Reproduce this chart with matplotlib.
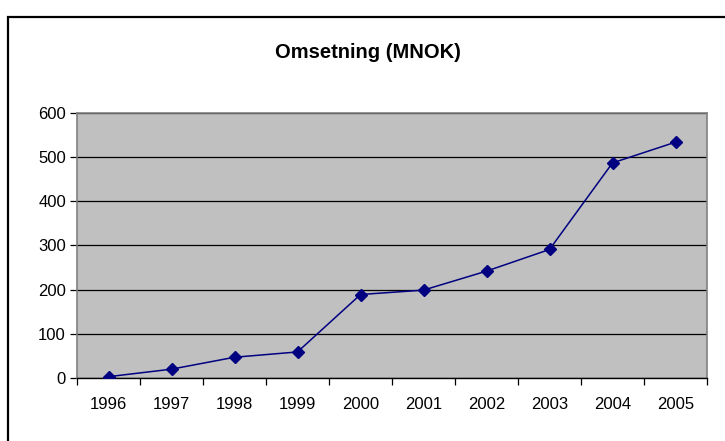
import matplotlib
matplotlib.use("Agg")
import matplotlib.pyplot as plt
from matplotlib.patches import Rectangle
import numpy as np

years = ["1996", "1997", "1998", "1999", "2000", "2001", "2002", "2003", "2004", "2005"]
values = [3, 20, 47, 59, 189, 199, 242, 291, 487, 534]
yticks = [0, 100, 200, 300, 400, 500, 600]
title = "Omsetning (MNOK)"

plt.rcParams['font.family'] = ['Liberation Sans', 'DejaVu Sans']

W, H = 725, 441
fig = plt.figure(figsize=(W / 100, H / 100), dpi=100)

# outer chart frame (clipped at right and bottom)
fig.patches.append(Rectangle((8 / W, -0.1), 1.2, 1 - 17 / H + 0.1, transform=fig.transFigure,
                             fill=False, edgecolor='black', linewidth=1.6, zorder=0))

ax = fig.add_axes([77 / W, 1 - 378 / H, (707 - 77) / W, (378 - 113) / H])
ax.set_facecolor('#C0C0C0')

x = np.arange(len(years)) + 0.5
ax.plot(x, values, color='#000080', linewidth=1.1, marker='D', markersize=6,
        markerfacecolor='#000080', markeredgecolor='#000080', zorder=3)

ax.set_xlim(0, len(years))
ax.set_ylim(0, 600)
ax.set_yticks(yticks)
ax.set_yticklabels([str(v) for v in yticks])
ax.yaxis.grid(True, color='black', linewidth=0.9)
ax.set_axisbelow(True)

ax.set_xticks(np.arange(len(years) + 1))
ax.set_xticklabels([])
ax.set_xticks(x, minor=True)
ax.set_xticklabels(years, minor=True)
ax.tick_params(axis='x', which='minor', length=0, pad=14, labelsize=12)
ax.tick_params(axis='x', which='major', length=5, width=0.9, direction='out', color='black')
ax.tick_params(axis='y', length=5, width=0.9, direction='out', pad=3, labelsize=12, color='black')

for s in ['top', 'right']:
    ax.spines[s].set_color('#808080')
    ax.spines[s].set_linewidth(1.2)
ax.spines['left'].set_color('#808080')
ax.spines['left'].set_linewidth(1.2)
ax.spines['bottom'].set_color('black')
ax.spines['bottom'].set_linewidth(1.0)

fig.text(368 / W, 1 - 53 / H, title, ha='center', va='center', fontsize=14.5, fontweight='bold')

fig.savefig("out.png", dpi=100)
